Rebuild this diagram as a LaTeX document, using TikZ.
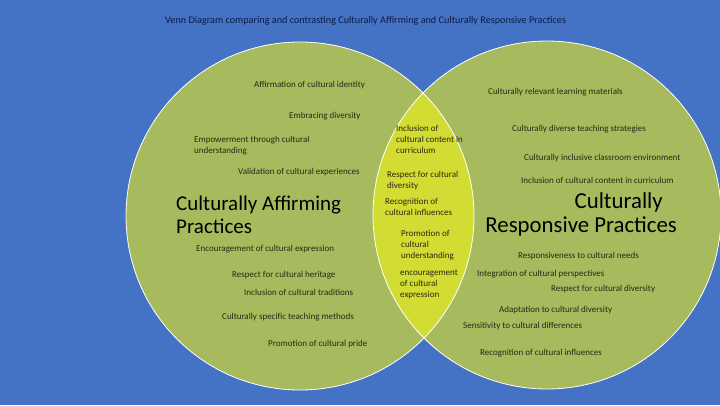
\documentclass[tikz,border=0pt]{standalone}
\usepackage{fontspec}
\setmainfont{Carlito}
\definecolor{bgblue}{HTML}{4472C4}
\definecolor{ringgreen}{HTML}{A7BA5E}
\definecolor{lensyellow}{HTML}{D3DC32}
\definecolor{inkdark}{HTML}{262A12}
\definecolor{titlenavy}{HTML}{0E1A45}
\begin{document}
\begin{tikzpicture}[x=1pt, y=-1pt, line join=round, line cap=round,
    item/.style={anchor=north west, inner sep=0pt, align=left, text=inkdark, font=\fontsize{9}{11}\selectfont},
    heading/.style={inner sep=0pt, text=black}]
    % 1. background and the two circles
    \fill[bgblue] (0,0) rectangle (720,405);
    \useasboundingbox (0,0) rectangle (720,405);
    \coordinate (L) at (300,216);
    \coordinate (R) at (547,215);
    \fill[ringgreen] (L) circle (174pt);
    \fill[ringgreen] (R) circle (174pt);
    \begin{scope}
        \clip (L) circle (174pt);
        \fill[lensyellow] (R) circle (174pt);
    \end{scope}
    \draw[white, line width=0.8pt] (L) circle (174pt) (R) circle (174pt);
    % 2. title
    \node[anchor=west, inner sep=0pt, text=titlenavy, font=\fontsize{10.2}{12}\selectfont] (title) at (165,21)
        {Venn Diagram comparing and contrasting Culturally Affirming and Culturally Responsive Practices};
    % 3. headings
    \node[heading, anchor=north west, align=left, font=\fontsize{21}{23}\selectfont] (affirm) at (176,196)
        {Culturally Affirming\\Practices};
    \node[heading, anchor=north east, align=right, font=\fontsize{22.8}{24}\selectfont] (respond) at (677,192)
        {Culturally\hspace*{14pt}\\Responsive Practices};
    % 4. left circle items
    \foreach \x/\y/\t [count=\i] in {254/86/{Affirmation of cultural identity}, 289/117/{Embracing diversity},
        194/141/{Empowerment through cultural\\understanding}, 238/173/{Validation of cultural experiences},
        196/250/{Encouragement of cultural expression}, 232/276/{Respect for cultural heritage},
        244/294/{Inclusion of cultural traditions}, 222/318/{Culturally specific teaching methods},
        268/345/{Promotion of cultural pride}}
        \node[item] (left\i) at (\x,\y-4.5) {\t};
    % 5. shared items
    \foreach \x/\y/\t [count=\i] in {396/130/{Inclusion of\\cultural content in\\curriculum},
        387/176/{Respect for cultural\\diversity}, 385/203/{Recognition of\\cultural influences},
        401/235/{Promotion of\\cultural\\understanding}, 400/274/{encouragement\\of cultural\\expression}}
        \node[item] (both\i) at (\x,\y-4.5) {\t};
    % 6. right circle items
    \foreach \x/\y/\t [count=\i] in {488/93/{Culturally relevant learning materials}, 512/130/{Culturally diverse teaching strategies},
        524/159/{Culturally inclusive classroom environment}, 521/182/{Inclusion of cultural content in curriculum},
        518/257/{Responsiveness to cultural needs}, 477/275/{Integration of cultural perspectives},
        551/290/{Respect for cultural diversity}, 499/311/{Adaptation to cultural diversity},
        463/327/{Sensitivity to cultural differences}, 480/354/{Recognition of cultural influences}}
        \node[item] (right\i) at (\x,\y-4.5) {\t};
\end{tikzpicture}
\end{document}
